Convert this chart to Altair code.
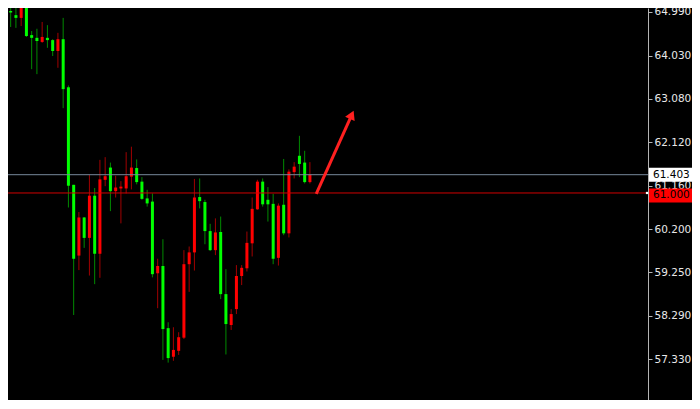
import altair as alt
import pandas as pd

# ---- candle data ----
candle_index = list(range(59))
open_ = [64.22, 65.01, 64.92, 64.86, 65.37, 64.48, 64.42, 64.33, 64.42, 64.37,
         64.13, 64.39, 63.33, 61.18, 59.62, 60.46, 60.01, 60.94, 59.66, 61.29,
         61.56, 61.04, 61.10, 61.10, 61.36, 61.55, 61.25, 60.88, 60.81, 59.23,
         59.39, 58.02, 57.39, 57.52, 57.81, 59.43, 59.69, 60.91, 60.80, 60.16,
         59.74, 60.14, 58.77, 58.09, 58.44, 59.17, 59.34, 59.89, 60.64, 61.25,
         60.85, 60.76, 59.57, 60.74, 60.11, 61.46, 61.82, 61.67, 61.24]
high = [65.03, 65.10, 65.12, 65.40, 65.40, 64.57, 64.62, 64.77, 64.70, 64.39,
        64.53, 64.86, 63.37, 61.18, 60.58, 60.47, 61.40, 61.11, 61.73, 61.79,
        61.67, 61.38, 61.26, 61.90, 62.02, 61.74, 61.35, 61.07, 60.99, 59.55,
        59.98, 58.15, 58.04, 57.93, 59.74, 59.82, 61.31, 61.32, 60.85, 60.32,
        60.44, 60.48, 59.32, 58.44, 59.41, 59.41, 60.15, 60.90, 61.29, 61.32,
        61.13, 60.98, 60.77, 61.75, 61.52, 61.68, 62.26, 61.93, 61.68]
low = [63.89, 64.66, 64.64, 64.68, 64.44, 63.73, 63.62, 64.31, 64.20, 64.02,
       63.76, 62.87, 60.68, 58.31, 59.30, 59.79, 59.18, 58.99, 59.13, 61.15,
       60.60, 60.90, 60.33, 60.99, 61.08, 61.19, 60.85, 60.70, 59.14, 58.46,
       57.32, 57.26, 57.30, 57.43, 57.78, 58.82, 59.29, 60.66, 59.87, 59.72,
       59.63, 58.66, 57.44, 57.98, 58.33, 58.97, 59.27, 59.60, 60.63, 60.70,
       60.37, 59.43, 59.40, 60.07, 60.02, 61.32, 61.35, 61.21, 61.21]
close = [65.01, 64.98, 64.86, 65.37, 64.46, 64.42, 64.35, 64.44, 64.37, 64.13,
         64.39, 63.29, 61.16, 59.55, 60.46, 60.01, 60.94, 59.66, 61.30, 61.37,
         61.04, 61.12, 61.14, 61.37, 61.56, 61.24, 60.87, 60.77, 59.21, 59.39,
         58.00, 57.36, 57.54, 57.82, 59.43, 59.69, 60.90, 60.82, 60.16, 59.74,
         60.13, 58.77, 58.11, 58.33, 59.17, 59.35, 59.90, 60.65, 61.25, 60.75,
         60.75, 59.55, 60.72, 60.11, 61.47, 61.58, 61.64, 61.24, 61.403]

tick_values = [64.990, 64.030, 63.080, 62.120, 61.160, 60.200, 59.250, 58.290, 57.330, 56.370]
bid_price = [61.403]
level_price = [61.000]
arrow_index = [59.2, 65.97]
arrow_price = [60.98, 62.724]

PLOT_W, PLOT_H = 640, 392
FONT = "DejaVu Sans"

df = pd.DataFrame({"i": candle_index, "open": open_, "high": high, "low": low, "close": close})
bid_df = pd.DataFrame({"price": bid_price})
level_df = pd.DataFrame({"price": level_price})
arrow_df = pd.DataFrame({"i": arrow_index, "price": arrow_price})
head_df = arrow_df.tail(1)

xscale = alt.Scale(domain=[1.444, 121.444], nice=False, zero=False)
yscale = alt.Scale(domain=[56.436, 65.078], nice=False, zero=False)

yaxis = alt.Axis(orient="right", values=tick_values, format=".3f", title=None, grid=False,
                 domain=True, ticks=True, labels=True,
                 domainColor="#b4b4b4", tickColor="#b4b4b4", tickSize=4,
                 labelColor="#e8e8e8", labelFont=FONT, labelFontSize=10.5, labelPadding=2,
                 labelOverlap=False, labelFlush=False)

X = alt.X("i:Q", scale=xscale, axis=None)
up = "datum.close > datum.open"

wick = alt.Chart(df).mark_rule(strokeWidth=1, clip=True).encode(
    x=X, y=alt.Y("low:Q", scale=yscale, axis=yaxis), y2="high:Q",
    color=alt.condition(up, alt.value("#a00000"), alt.value("#008a00")))
body = alt.Chart(df).mark_bar(size=3, clip=True).encode(
    x=X, y=alt.Y("open:Q", scale=yscale, axis=yaxis), y2="close:Q",
    color=alt.condition(up, alt.value("#ff0000"), alt.value("#00ff00")))

Yp = alt.Y("price:Q", scale=yscale, axis=yaxis)

bid_line = alt.Chart(bid_df).mark_rule(color="#77889a", strokeWidth=1).encode(
    y=Yp, x=alt.value(0), x2=alt.value(PLOT_W))
level_line = alt.Chart(level_df).mark_rule(color="#d00000", strokeWidth=1).encode(
    y=Yp, x=alt.value(0), x2=alt.value(PLOT_W - 2))
level_dot = alt.Chart(level_df).mark_square(color="white", size=5, opacity=1, filled=True).encode(
    y=Yp, x=alt.value(PLOT_W - 1))

arrow_line = alt.Chart(arrow_df).mark_line(color="#ff2020", strokeWidth=3, clip=True).encode(
    x=alt.X("i:Q", scale=xscale, axis=None), y=Yp)
arrow_head = alt.Chart(head_df).mark_point(shape="triangle-up", filled=True, size=110, angle=24.6,
                                           color="#ff2020", opacity=1).encode(
    x=alt.X("i:Q", scale=xscale, axis=None), y=Yp)

bid_box = alt.Chart(bid_df).mark_rule(color="#ffffff", strokeWidth=14, strokeCap="butt").encode(
    y=Yp, x=alt.value(PLOT_W + 1), x2=alt.value(PLOT_W + 44))
bid_text = alt.Chart(bid_df).mark_text(align="left", baseline="middle", font=FONT, fontSize=10.5,
                                       color="#000000").encode(
    y=Yp, x=alt.value(PLOT_W + 5), text=alt.Text("price:Q", format=".3f"))
level_box = alt.Chart(level_df).mark_rule(color="#ff0000", strokeWidth=14, strokeCap="butt",
                                          yOffset=2.5).encode(
    y=Yp, x=alt.value(PLOT_W + 1), x2=alt.value(PLOT_W + 44))
level_text = alt.Chart(level_df).mark_text(align="left", baseline="middle", font=FONT, fontSize=10.5,
                                           color="#000000", yOffset=2.5).encode(
    y=Yp, x=alt.value(PLOT_W + 5), text=alt.Text("price:Q", format=".3f"))

chart = alt.layer(
    wick, body, bid_line, level_line, level_dot, arrow_line, arrow_head,
    bid_box, bid_text, level_box, level_text
).properties(
    width=PLOT_W, height=PLOT_H,
    autosize=alt.AutoSizeParams(type="none"),
    padding={"left": 0, "top": 0, "right": 44, "bottom": 0},
    background="#000000",
).configure_view(stroke=None)

chart.save("out.html", embed_options={"renderer": "svg", "actions": False})
